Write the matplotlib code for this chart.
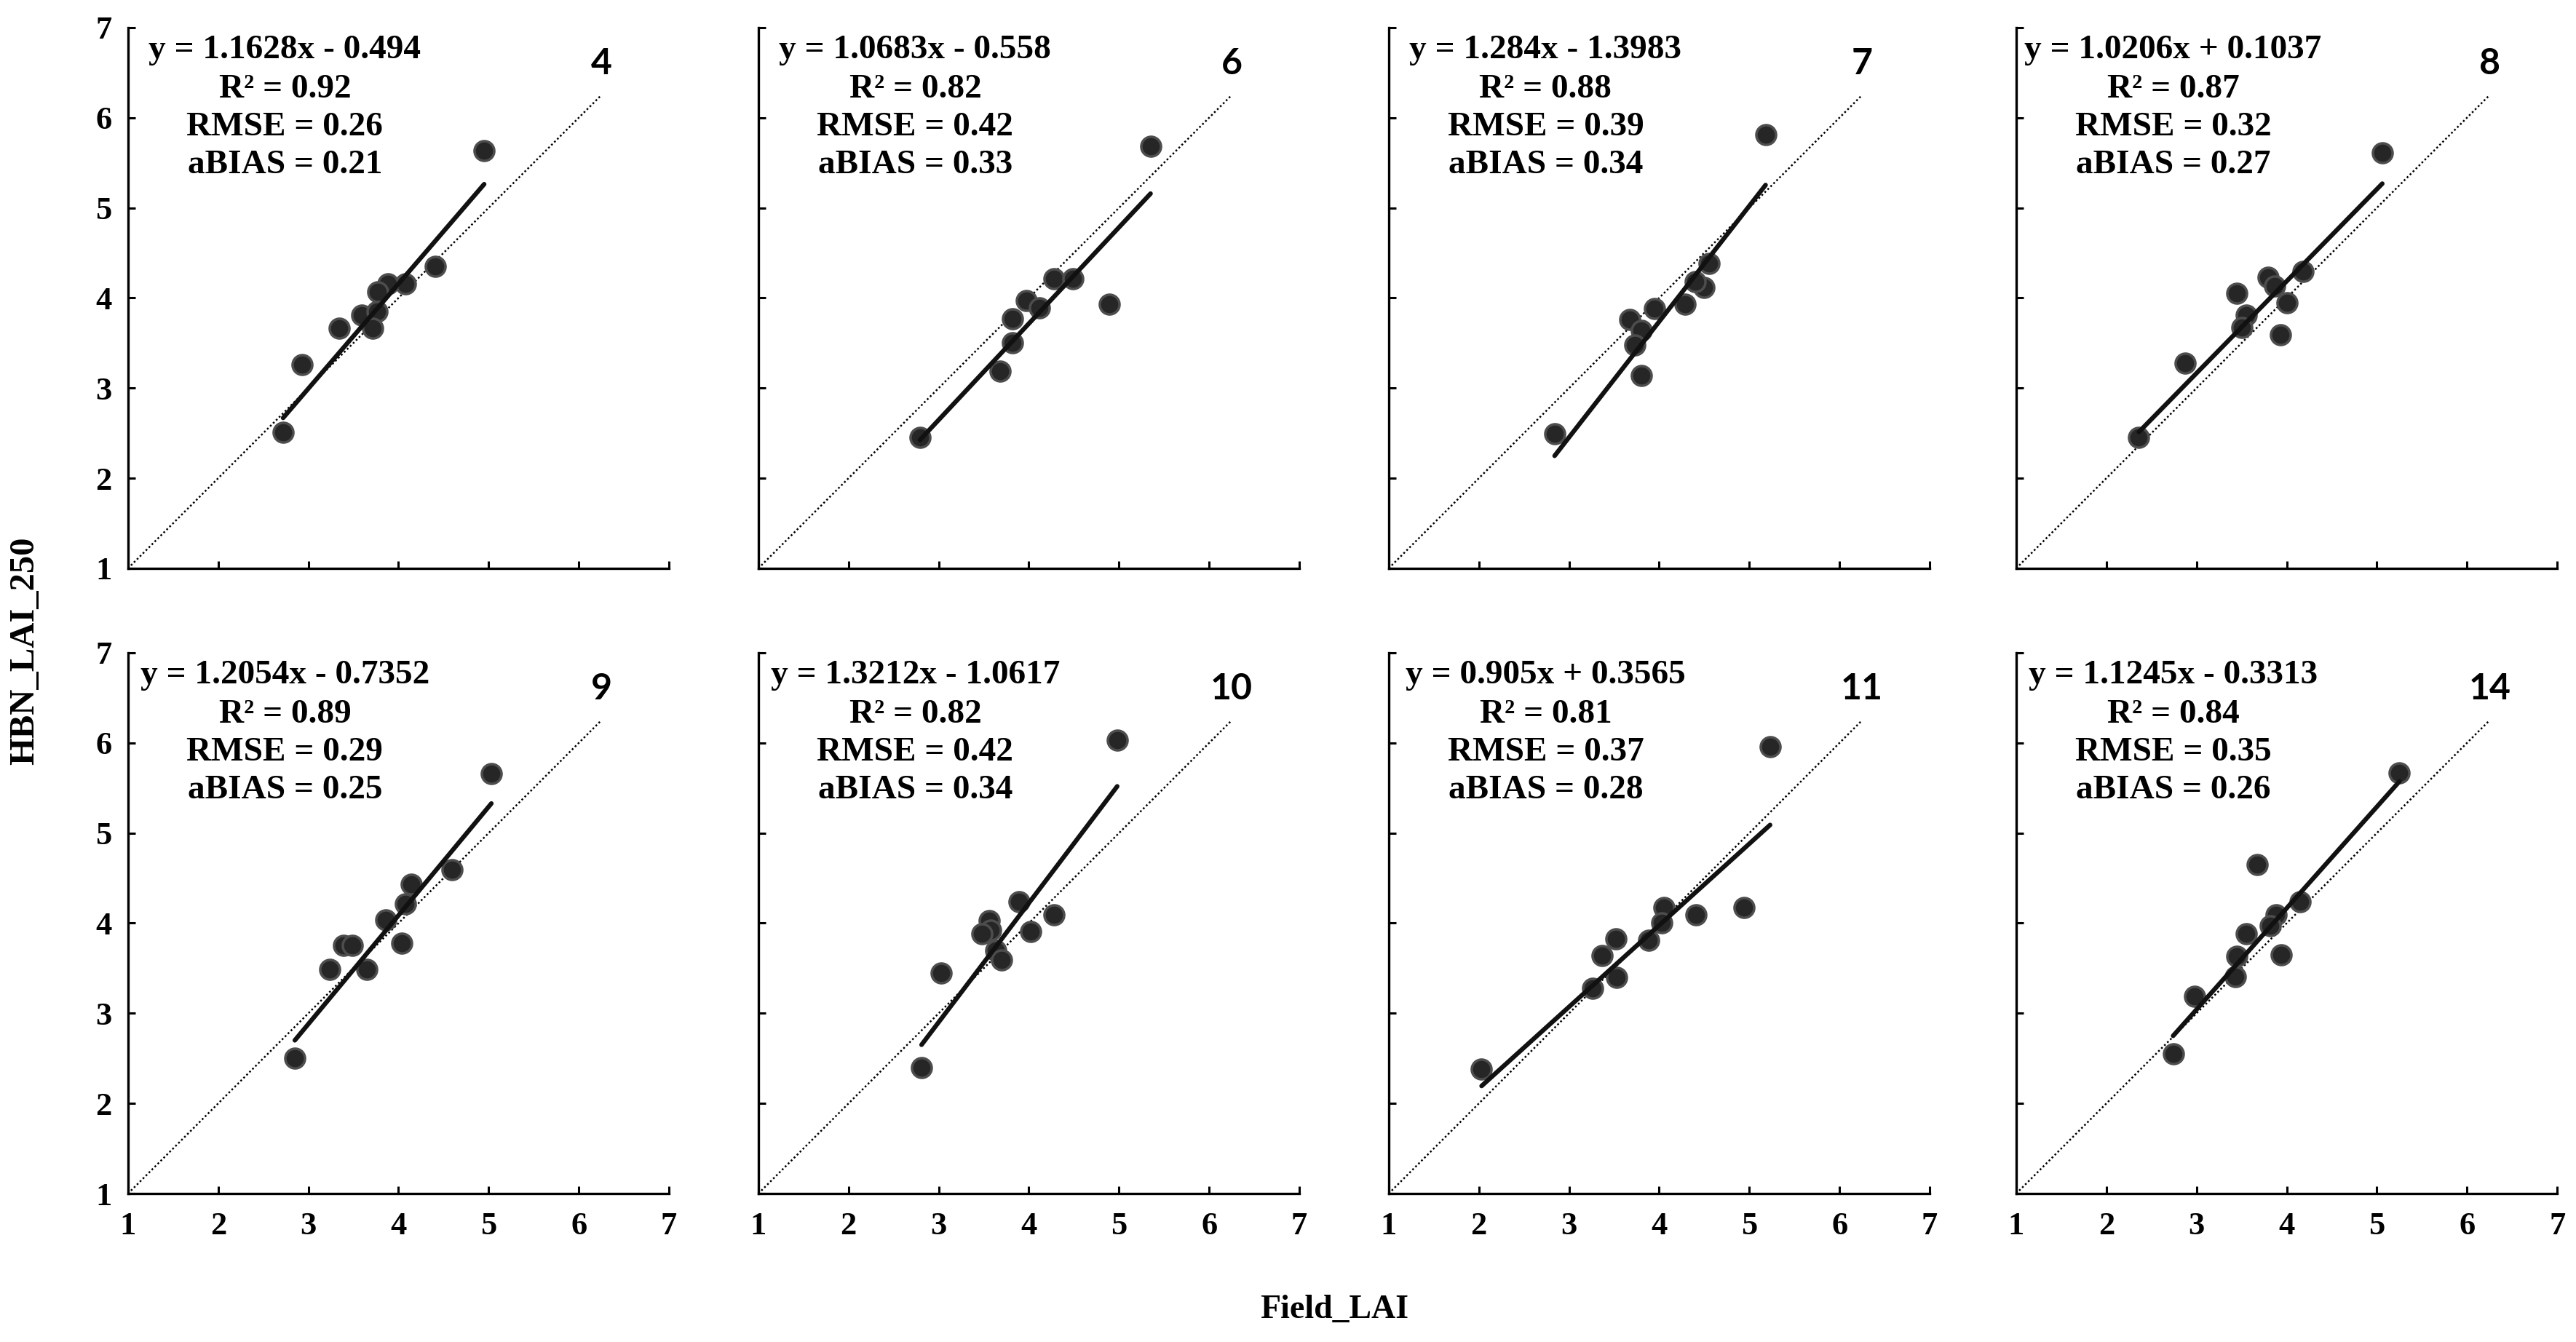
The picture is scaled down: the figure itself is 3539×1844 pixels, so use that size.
import matplotlib
matplotlib.use("Agg")
import matplotlib.pyplot as plt
import numpy as np

# panel labels and stats
panel_ids = ["4", "6", "7", "8", "9", "10", "11", "14"]
slopes = [1.1628, 1.0683, 1.284, 1.0206, 1.2054, 1.3212, 0.905, 1.1245]
intercepts = [-0.494, -0.558, -1.3983, 0.1037, -0.7352, -1.0617, 0.3565, -0.3313]
eq_texts = ["y = 1.1628x - 0.494", "y = 1.0683x - 0.558", "y = 1.284x - 1.3983",
            "y = 1.0206x + 0.1037", "y = 1.2054x - 0.7352", "y = 1.3212x - 1.0617",
            "y = 0.905x + 0.3565", "y = 1.1245x - 0.3313"]
r2_vals = ["0.92", "0.82", "0.88", "0.87", "0.89", "0.82", "0.81", "0.84"]
rmse_vals = ["0.26", "0.42", "0.39", "0.32", "0.29", "0.42", "0.37", "0.35"]
abias_vals = ["0.21", "0.33", "0.34", "0.27", "0.25", "0.34", "0.28", "0.26"]

# Field_LAI (x) and HBN_LAI_250 (y) per panel
field_4 = [4.95, 4.41, 4.08, 3.88, 3.77, 3.59, 3.76, 3.71, 3.34, 2.93, 2.72]
hbn_4 = [5.63, 4.35, 4.16, 4.16, 4.07, 3.81, 3.85, 3.66, 3.66, 3.26, 2.51]
field_6 = [5.35, 4.89, 4.28, 4.49, 3.97, 4.12, 3.82, 3.82, 3.68, 2.79]
hbn_6 = [5.68, 3.93, 4.21, 4.21, 3.97, 3.89, 3.77, 3.50, 3.19, 2.45]
field_7 = [5.18, 4.55, 4.50, 4.40, 4.29, 3.95, 3.67, 3.80, 3.73, 3.80, 2.84]
hbn_7 = [5.81, 4.38, 4.12, 4.18, 3.93, 3.88, 3.76, 3.64, 3.48, 3.14, 2.49]
field_8 = [5.06, 4.18, 3.79, 3.87, 3.45, 4.00, 3.55, 3.50, 3.93, 2.87, 2.36]
hbn_8 = [5.61, 4.29, 4.23, 4.13, 4.05, 3.95, 3.81, 3.67, 3.59, 3.28, 2.45]
field_9 = [5.03, 4.59, 4.14, 4.08, 3.86, 4.04, 3.39, 3.49, 3.24, 3.65, 2.85]
hbn_9 = [5.66, 4.59, 4.43, 4.21, 4.04, 3.78, 3.75, 3.75, 3.49, 3.49, 2.50]
field_10 = [4.98, 4.28, 3.89, 3.56, 3.58, 3.48, 4.02, 3.63, 3.70, 3.03, 2.81]
hbn_10 = [6.03, 4.09, 4.24, 4.03, 3.92, 3.88, 3.91, 3.70, 3.59, 3.45, 2.40]
field_11 = [5.23, 4.94, 4.41, 4.05, 4.03, 3.88, 3.52, 3.37, 3.53, 3.26, 2.03]
hbn_11 = [5.96, 4.17, 4.09, 4.17, 4.00, 3.81, 3.83, 3.64, 3.40, 3.28, 2.38]
field_14 = [5.25, 4.15, 3.88, 3.82, 3.67, 3.55, 3.45, 3.94, 3.43, 2.98, 2.74]
hbn_14 = [5.67, 4.24, 4.09, 3.97, 4.65, 3.88, 3.63, 3.65, 3.41, 3.19, 2.55]

fields = [field_4, field_6, field_7, field_8, field_9, field_10, field_11, field_14]
hbns = [hbn_4, hbn_6, hbn_7, hbn_8, hbn_9, hbn_10, hbn_11, hbn_14]

serif = "Liberation Serif"

fig = plt.figure(figsize=(35.39, 18.44), dpi=100)
lefts = [0.0497, 0.2944, 0.5391, 0.7827]
bottoms = [0.5765, 0.1106]
w, h = 0.21, 0.403

for i in range(8):
    row, col = divmod(i, 4)
    ax = fig.add_axes([lefts[col], bottoms[row], w, h])
    x = np.array(fields[i])
    y = np.array(hbns[i])

    # 1:1 line
    ax.plot([1, 6.25], [1, 6.25], color="black", linestyle=(0, (1, 1.3)), linewidth=1.8, zorder=1)
    ax.scatter(x, y, s=380, color="#262626", edgecolor="#4d4d4d", linewidth=2.5, zorder=2)
    # regression line
    xx = np.array([x.min(), x.max()])
    ax.plot(xx, slopes[i] * xx + intercepts[i], color="#111111", linewidth=4.5, zorder=3,
            solid_capstyle="round")

    ax.set_xlim(1, 7)
    ax.set_ylim(1, 7)
    ax.set_xticks(range(1, 8))
    ax.set_yticks(range(1, 8))
    for s in ["top", "right"]:
        ax.spines[s].set_visible(False)
    for s in ["left", "bottom"]:
        ax.spines[s].set_linewidth(2.4)
    ax.tick_params(direction="in", length=7, width=2.2, labelsize=32, pad=16)
    ax.tick_params(axis="x", pad=18)
    for lab in ax.get_xticklabels() + ax.get_yticklabels():
        lab.set_fontfamily(serif)
        lab.set_fontweight("bold")
    if row == 0:
        ax.set_xticklabels([])
    if col != 0:
        ax.set_yticklabels([])

    txt = dict(transform=ax.transAxes, ha="center", va="center", fontsize=34,
               fontfamily=serif, fontweight="bold")
    ax.text(0.29, 0.958, eq_texts[i], **txt)
    ax.text(0.29, 0.885, "R² = " + r2_vals[i], **txt)
    ax.text(0.29, 0.815, "RMSE = " + rmse_vals[i], **txt)
    ax.text(0.29, 0.745, "aBIAS = " + abias_vals[i], **txt)
    ax.text(6.25, 6.6, panel_ids[i], ha="center", va="center", fontsize=36,
            fontfamily="Lato", fontweight="bold")

fig.text(0.0096, 0.515, "HBN_LAI_250", rotation=90, ha="center", va="center",
         fontsize=35, fontfamily=serif, fontweight="bold")
fig.text(0.518, 0.024, "Field_LAI", ha="center", va="center",
         fontsize=33, fontfamily=serif, fontweight="bold")

fig.savefig("out.png", dpi=100, facecolor="white")
